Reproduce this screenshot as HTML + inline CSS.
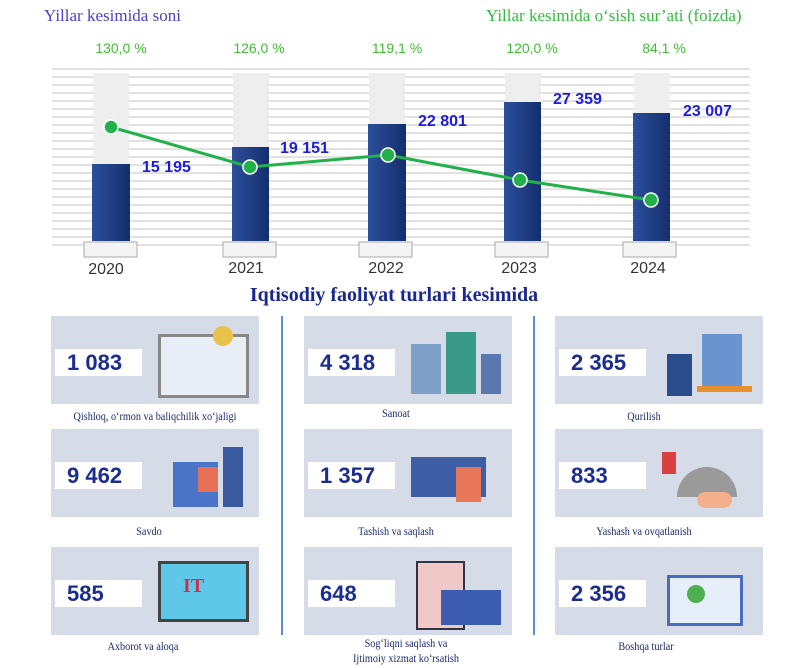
<!DOCTYPE html>
<html><head><meta charset="utf-8"><style>
body{margin:0;width:788px;height:668px;background:#fff;overflow:hidden;position:relative;font-family:"Liberation Sans",sans-serif}
.a{position:absolute}
.ser{font-family:"Liberation Serif",serif}
.card{position:absolute;width:208px;height:88px;background:#d6dce7}
.num{position:absolute;left:4px;top:33px;width:87px;height:27px;background:#fff;color:#1b2d8f;font-weight:bold;font-size:22px;line-height:27px;text-indent:12px}
.ill{position:absolute;right:6px;top:8px;width:100px;height:74px}
.lab{position:absolute;width:240px;text-align:center;font-family:"Liberation Serif",serif;font-size:12px;color:#1a2a6a;transform:scaleX(0.85)}
</style></head><body>
<div class="a ser" style="left:44px;top:6px;font-size:17px;color:#4a3fcf">Yillar kesimida soni</div>
<div class="a ser" style="left:486px;top:6px;font-size:17px;color:#2fbf3a">Yillar kesimida o‘sish sur’ati (foizda)</div>
<svg class="a" style="left:0;top:0" width="788" height="290">
<g stroke="#e2e2e2" stroke-width="2">
<line x1="52" y1="69" x2="750" y2="69"/><line x1="52" y1="77" x2="750" y2="77"/><line x1="52" y1="85" x2="750" y2="85"/><line x1="52" y1="93" x2="750" y2="93"/><line x1="52" y1="101" x2="750" y2="101"/><line x1="52" y1="109" x2="750" y2="109"/><line x1="52" y1="117" x2="750" y2="117"/><line x1="52" y1="125" x2="750" y2="125"/><line x1="52" y1="133" x2="750" y2="133"/><line x1="52" y1="141" x2="750" y2="141"/><line x1="52" y1="149" x2="750" y2="149"/><line x1="52" y1="157" x2="750" y2="157"/><line x1="52" y1="165" x2="750" y2="165"/><line x1="52" y1="173" x2="750" y2="173"/><line x1="52" y1="181" x2="750" y2="181"/><line x1="52" y1="189" x2="750" y2="189"/><line x1="52" y1="197" x2="750" y2="197"/><line x1="52" y1="205" x2="750" y2="205"/><line x1="52" y1="213" x2="750" y2="213"/><line x1="52" y1="221" x2="750" y2="221"/><line x1="52" y1="229" x2="750" y2="229"/><line x1="52" y1="237" x2="750" y2="237"/><line x1="52" y1="245" x2="750" y2="245"/>
</g>
<defs><linearGradient id="g" x1="0" x2="1"><stop offset="0" stop-color="#2c4f9a"/><stop offset="1" stop-color="#142e6e"/></linearGradient></defs>
<g fill="#eeeeee"><rect x="93" y="73" width="36" height="168"/><rect x="233" y="73" width="36" height="168"/><rect x="369" y="73" width="36" height="168"/><rect x="505" y="73" width="36" height="168"/><rect x="634" y="73" width="36" height="168"/></g>
<g fill="url(#g)"><rect x="92" y="164" width="38" height="77"/><rect x="232" y="147" width="37" height="94"/><rect x="368" y="124" width="38" height="117"/><rect x="504" y="102" width="37" height="139"/><rect x="633" y="113" width="37" height="128"/></g>
<g fill="#f4f4f4" stroke="#aaa"><rect x="84" y="242" width="53" height="15"/><rect x="223" y="242" width="53" height="15"/><rect x="359" y="242" width="53" height="15"/><rect x="495" y="242" width="53" height="15"/><rect x="623" y="242" width="53" height="15"/></g>
<polyline points="111,127 250,167 388,155 520,180 651,200" fill="none" stroke="#22b04a" stroke-width="3"/>
<g fill="#22b04a" stroke="#fff" stroke-width="1.5"><circle cx="111" cy="127" r="7"/><circle cx="250" cy="167" r="7"/><circle cx="388" cy="155" r="7"/><circle cx="520" cy="180" r="7"/><circle cx="651" cy="200" r="7"/></g>
<g font-size="14" fill="#3fbf2f" text-anchor="middle" font-family="Liberation Sans"><text x="121" y="53">130,0 %</text><text x="259" y="53">126,0 %</text><text x="397" y="53">119,1 %</text><text x="532" y="53">120,0 %</text><text x="664" y="53">84,1 %</text></g>
<g font-size="16" font-weight="bold" fill="#1c1ce0" font-family="Liberation Sans"><text x="142" y="172">15 195</text><text x="280" y="153">19 151</text><text x="418" y="126">22 801</text><text x="553" y="104">27 359</text><text x="683" y="116">23 007</text></g>
<g font-size="16" fill="#333" text-anchor="middle" font-family="Liberation Sans"><text x="106" y="274">2020</text><text x="246" y="273">2021</text><text x="386" y="273">2022</text><text x="519" y="273">2023</text><text x="648" y="273">2024</text></g>
</svg>
<div class="a ser" style="left:0;width:788px;text-align:center;top:284px;font-size:20px;font-weight:bold;color:#1a2790">Iqtisodiy faoliyat turlari kesimida</div>
<div class="a" style="left:281px;top:316px;width:2px;height:319px;background:#5b8fd0"></div>
<div class="a" style="left:533px;top:316px;width:2px;height:319px;background:#5b8fd0"></div>

<div class="card" style="left:51px;top:316px"><div class="num">1 083</div><div class="ill"><div class="a" style="left:5px;top:10px;width:85px;height:58px;border:3px solid #888;background:#e9eef6"></div><div class="a" style="left:60px;top:2px;width:20px;height:20px;background:#e8c24a;border-radius:50%"></div></div></div>
<div class="card" style="left:304px;top:316px"><div class="num">4 318</div><div class="ill"><div class="a" style="left:5px;top:20px;width:30px;height:50px;background:#7fa0c8"></div><div class="a" style="left:40px;top:8px;width:30px;height:62px;background:#3a9a8a"></div><div class="a" style="left:75px;top:30px;width:20px;height:40px;background:#5a78b0"></div></div></div>
<div class="card" style="left:555px;top:316px"><div class="num">2 365</div><div class="ill"><div class="a" style="left:10px;top:30px;width:25px;height:42px;background:#2c4d8c"></div><div class="a" style="left:45px;top:10px;width:40px;height:55px;background:#6a94d0"></div><div class="a" style="left:40px;top:62px;width:55px;height:6px;background:#e89030"></div></div></div>

<div class="card" style="left:51px;top:429px"><div class="num">9 462</div><div class="ill"><div class="a" style="left:20px;top:25px;width:45px;height:45px;background:#4a74c8"></div><div class="a" style="left:45px;top:30px;width:20px;height:25px;background:#e57055"></div><div class="a" style="left:70px;top:10px;width:20px;height:60px;background:#3a5aa0"></div></div></div>
<div class="card" style="left:304px;top:429px"><div class="num">1 357</div><div class="ill"><div class="a" style="left:5px;top:20px;width:75px;height:40px;background:#3f5ea8"></div><div class="a" style="left:50px;top:30px;width:25px;height:35px;background:#e8775a"></div></div></div>
<div class="card" style="left:555px;top:429px"><div class="num">833</div><div class="ill"><div class="a" style="left:20px;top:30px;width:60px;height:30px;background:#9a9a9a;border-radius:30px 30px 0 0"></div><div class="a" style="left:5px;top:15px;width:14px;height:22px;background:#d94040"></div><div class="a" style="left:40px;top:55px;width:35px;height:16px;background:#f3b08a;border-radius:8px"></div></div></div>

<div class="card" style="left:51px;top:547px"><div class="num">585</div><div class="ill"><div class="a" style="left:5px;top:6px;width:85px;height:55px;background:#5fc8e8;border:3px solid #444"></div><div class="a ser" style="left:30px;top:20px;font-size:20px;font-weight:bold;color:#d03050">IT</div></div></div>
<div class="card" style="left:304px;top:547px"><div class="num">648</div><div class="ill"><div class="a" style="left:10px;top:6px;width:45px;height:65px;background:#f0c8c8;border:2px solid #334"></div><div class="a" style="left:35px;top:35px;width:60px;height:35px;background:#3c5db0"></div></div></div>
<div class="card" style="left:555px;top:547px"><div class="num">2 356</div><div class="ill"><div class="a" style="left:10px;top:20px;width:70px;height:45px;background:#e6eefa;border:3px solid #4a6cc0"></div><div class="a" style="left:30px;top:30px;width:18px;height:18px;background:#4caf50;border-radius:50%"></div></div></div>

<div class="lab" style="left:35px;top:409px">Qishloq, o‘rmon va baliqchilik xo‘jaligi</div>
<div class="lab" style="left:276px;top:406px">Sanoat</div>
<div class="lab" style="left:524px;top:409px">Qurilish</div>
<div class="lab" style="left:29px;top:524px">Savdo</div>
<div class="lab" style="left:276px;top:524px">Tashish va saqlash</div>
<div class="lab" style="left:524px;top:524px">Yashash va ovqatlanish</div>
<div class="lab" style="left:23px;top:639px">Axborot va aloqa</div>
<div class="lab" style="left:286px;top:636px">Sog‘liqni saqlash va</div>
<div class="lab" style="left:286px;top:651px">Ijtimoiy xizmat ko‘rsatish</div>
<div class="lab" style="left:526px;top:639px">Boshqa turlar</div>
</body></html>
